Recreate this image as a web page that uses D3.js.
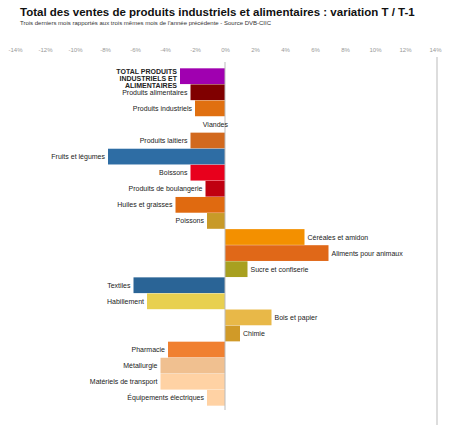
<!DOCTYPE html>
<html><head><meta charset="utf-8">
<script src="https://cdn.jsdelivr.net/npm/d3@7"></script>
<style>body{margin:0;background:#fff;font-family:"Liberation Sans",Arial,sans-serif}</style>
</head><body><svg id="c" width="450" height="428"></svg>
<script>
const categories = ["TOTAL PRODUITS INDUSTRIELS ET ALIMENTAIRES","Produits alimentaires","Produits industriels","Viandes","Produits laitiers","Fruits et légumes","Boissons","Produits de boulangerie","Huiles et graisses","Poissons","Céréales et amidon","Aliments pour animaux","Sucre et confiserie","Textiles","Habillement","Bois et papier","Chimie","Pharmacie","Métallurgie","Matériels de transport","Équipements électriques"];
const values = [-3.0,-2.3,-2.0,0,-2.3,-7.8,-2.3,-1.3,-3.3,-1.2,5.3,6.9,1.5,-6.1,-5.2,3.1,1.0,-3.8,-4.3,-4.3,-1.2];
const colors = ["#a000b0","#800000","#e07010","#cccccc","#d2691e","#2e6da4","#e8001c","#c00010","#e06a10","#c89a28","#f39000","#e06818","#a8a020","#2a6496","#e8d050","#e8b848","#d09a28","#f08030","#f0c090","#ffd2a4","#ffd2a4"];
const tickValues = d3.range(-14,15,2);

const svg = d3.select("#c");
svg.append("text").attr("x",20).attr("y",16).attr("font-size",11.5).attr("font-weight","bold").attr("fill","#111")
  .text("Total des ventes de produits industriels et alimentaires : variation T / T-1");
svg.append("text").attr("x",20).attr("y",25).attr("font-size",6).attr("fill","#333")
  .text("Trois derniers mois rapportés aux trois mêmes mois de l'année précédente - Source DVB-CIIC");

const x = d3.scaleLinear().domain([-14,14]).range([15,435]);
const y = d3.scaleBand().domain(categories).range([68,406]).padding(0.02);

const ax = svg.append("g").attr("transform","translate(0,55)")
  .call(d3.axisTop(x).tickValues(tickValues).tickSize(0).tickFormat(d=>d+"%"));
ax.select(".domain").remove();
ax.selectAll("text").attr("font-size",6).attr("fill","#999");
svg.append("line").attr("x1",437).attr("x2",437).attr("y1",57).attr("y2",425).attr("stroke","#bbb");

svg.selectAll("rect.b").data(values).join("rect").attr("class","b")
  .attr("x",d=>x(Math.min(0,d))).attr("width",d=>Math.abs(x(d)-x(0)))
  .attr("y",(d,i)=>y(categories[i])).attr("height",y.bandwidth())
  .attr("fill",(d,i)=>colors[i]);
svg.append("line").attr("x1",x(0)).attr("x2",x(0)).attr("y1",62).attr("y2",410).attr("stroke","#bbb");

const lab = svg.selectAll("text.l").data(values).join("text").attr("class","l")
  .attr("x",d=>d<0?x(d)-3:x(d)+3)
  .attr("y",(d,i)=>y(categories[i])+y.bandwidth()/2+2.5)
  .attr("text-anchor",d=>d<0||d===0?"end":"start")
  .attr("font-size",7).attr("fill","#222")
  .attr("font-weight",(d,i)=>i===0?"bold":"normal");
lab.each(function(d,i){
  const t=d3.select(this);
  if(i===0){
    const lines=["TOTAL PRODUITS","INDUSTRIELS ET","ALIMENTAIRES"];
    lines.forEach((s,k)=>t.append("tspan").attr("x",x(d)-3).attr("dy",k===0?-5:7).text(s));
  } else t.text(categories[i]);
});
</script></body></html>
